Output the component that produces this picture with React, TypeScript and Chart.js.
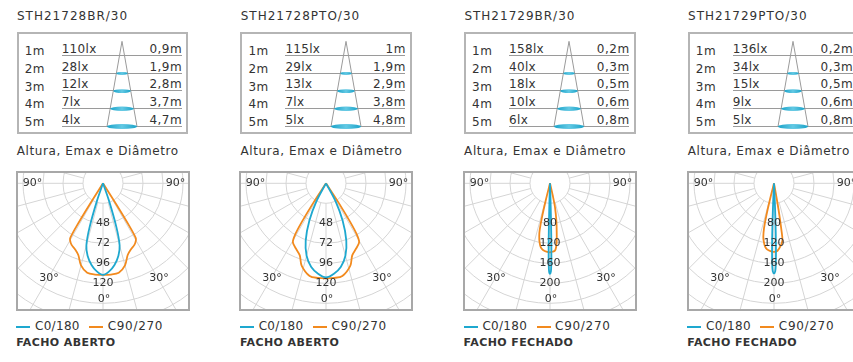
import React, { useEffect, useRef } from 'react';
import { Chart, registerables } from 'chart.js';

Chart.register(...registerables);

// ---------------- data ----------------
const TITLES = ['STH21728BR/30', 'STH21728PTO/30', 'STH21729BR/30', 'STH21729PTO/30'];
const FOOTERS = ['FACHO ABERTO', 'FACHO ABERTO', 'FACHO FECHADO', 'FACHO FECHADO'];
const SUBTITLE = 'Altura, Emax e Diâmetro';
const LEGEND_LABELS = ['C0/180', 'C90/270'];

const DISTANCES = [1, 2, 3, 4, 5];
const LUX_1 = [110, 28, 12, 7, 4];
const LUX_2 = [115, 29, 13, 7, 5];
const LUX_3 = [158, 40, 18, 10, 6];
const LUX_4 = [136, 34, 15, 9, 5];
const DIAM_1 = [0.9, 1.9, 2.8, 3.7, 4.7];
const DIAM_2 = [1, 1.9, 2.9, 3.8, 4.8];
const DIAM_3 = [0.2, 0.3, 0.5, 0.6, 0.8];
const DIAM_4 = [0.2, 0.3, 0.5, 0.6, 0.8];

// polar ring step (cd) and labelled ticks
const RING_STEPS = [24, 24, 40, 40];
const TICKS_ABERTO = [48, 72, 96, 120];
const TICKS_FECHADO = [80, 120, 160, 200];
const ANGLE_LABELS = ['90°', '90°', '30°', '30°', '0°'];
const ANGLE_LABEL_DEG = [-90, 90, -30, 30, 0];

// intensity curves (angle from nadir in degrees, intensity in cd)
const P1_C0_ANG = [0, 4, 8, 12, 15, 17, 19, 20.5];
const P1_C0_CD = [110, 106, 99, 89, 77, 55, 22, 0];
const P1_C90_ANG = [0, 5, 10, 15, 19, 23, 27, 30, 31, 31.7, 32.3, 33];
const P1_C90_CD = [110, 110, 109, 102, 91, 86, 83, 79, 76, 60, 30, 0];

const P2_C0_ANG = [0, 5, 10, 15, 19.5, 24, 28, 30.5];
const P2_C0_CD = [113, 109, 102, 90, 73, 49, 24, 0];
const P2_C90_ANG = [0, 5, 10, 16.5, 20, 25, 29.4, 31, 32, 33, 34];
const P2_C90_CD = [114, 114, 113, 103, 92, 86, 81, 72, 55, 28, 0];

const P3_C0_ANG = [0, 0.6, 0.9, 1.2, 1.5, 1.8, 2.1];
const P3_C0_CD = [181, 176, 162, 132, 85, 35, 0];
const P3_C270_ANG = [0, 3, 6, 8, 10, 11.5, 12.5, 13.3, 14, 14.5];
const P3_C270_CD = [138, 137, 134, 130, 120, 108, 95, 70, 35, 0];
const P3_C90_ANG = [0, 2, 4.2, 5.5, 6.7, 8, 9.5, 11.8, 12.8, 13.5];
const P3_C90_CD = [138, 137, 135, 128, 115, 96, 78, 49, 25, 0];

const P4_C0_ANG = [0, 0.8, 1.2, 1.6, 2, 2.4, 2.8, 3.2];
const P4_C0_CD = [180, 176, 165, 140, 100, 55, 20, 0];
const P4_C270_ANG = [0, 3, 6, 8, 10, 11.3, 12.5, 13.3, 14, 14.5];
const P4_C270_CD = [137, 136, 133, 128, 118, 109, 92, 68, 34, 0];
const P4_C90_ANG = [0, 3, 6, 8.4, 9, 9.5, 10, 10.5];
const P4_C90_CD = [137, 135, 126, 115, 95, 70, 40, 0];

// ---------------- styles ----------------
const CYAN = '#1ea8cf';
const ORANGE = '#f28a1e';
const TEXT = '#333333';
const FONT = '"DejaVu Sans", sans-serif';
const PANEL_X0 = 15.7;
const PANEL_GAP = 223.7;
const RING_PX = 20;
const ROW_Y0 = 55.3;
const ROW_STEP = 17.7;
const CONE_APEX = 0.19;
const CONE_HALF = 15;

type Curve = { leftAng: number[]; leftCd: number[]; rightAng: number[]; rightCd: number[]; color: string };

const LUX = [LUX_1, LUX_2, LUX_3, LUX_4];
const DIAM = [DIAM_1, DIAM_2, DIAM_3, DIAM_4];
const TICKS = [TICKS_ABERTO, TICKS_ABERTO, TICKS_FECHADO, TICKS_FECHADO];
const CURVES: Curve[][] = [
  [
    { leftAng: P1_C0_ANG, leftCd: P1_C0_CD, rightAng: P1_C0_ANG, rightCd: P1_C0_CD, color: CYAN },
    { leftAng: P1_C90_ANG, leftCd: P1_C90_CD, rightAng: P1_C90_ANG, rightCd: P1_C90_CD, color: ORANGE },
  ],
  [
    { leftAng: P2_C0_ANG, leftCd: P2_C0_CD, rightAng: P2_C0_ANG, rightCd: P2_C0_CD, color: CYAN },
    { leftAng: P2_C90_ANG, leftCd: P2_C90_CD, rightAng: P2_C90_ANG, rightCd: P2_C90_CD, color: ORANGE },
  ],
  [
    { leftAng: P3_C0_ANG, leftCd: P3_C0_CD, rightAng: P3_C0_ANG, rightCd: P3_C0_CD, color: CYAN },
    { leftAng: P3_C270_ANG, leftCd: P3_C270_CD, rightAng: P3_C90_ANG, rightCd: P3_C90_CD, color: ORANGE },
  ],
  [
    { leftAng: P4_C0_ANG, leftCd: P4_C0_CD, rightAng: P4_C0_ANG, rightCd: P4_C0_CD, color: CYAN },
    { leftAng: P4_C270_ANG, leftCd: P4_C270_CD, rightAng: P4_C90_ANG, rightCd: P4_C90_CD, color: ORANGE },
  ],
];

function curvePoints(c: Curve) {
  const pts: { x: number; y: number }[] = [];
  for (let i = c.leftAng.length - 1; i >= 0; i--) {
    const a = (c.leftAng[i] * Math.PI) / 180;
    pts.push({ x: -c.leftCd[i] * Math.sin(a), y: -c.leftCd[i] * Math.cos(a) });
  }
  for (let i = 0; i < c.rightAng.length; i++) {
    if (c.rightAng[i] === 0) continue;
    const a = (c.rightAng[i] * Math.PI) / 180;
    pts.push({ x: c.rightCd[i] * Math.sin(a), y: -c.rightCd[i] * Math.cos(a) });
  }
  return pts;
}

const polarGridPlugin = {
  id: 'polarGrid',
  beforeDatasetsDraw(chart: any, _a: any, opts: any) {
    const { ctx, chartArea, scales } = chart;
    const xs = scales.x, ys = scales.y;
    const cx = xs.getPixelForValue(0);
    const cy = ys.getPixelForValue(0);
    const ring = Math.abs(xs.getPixelForValue(opts.step) - cx);
    ctx.save();
    ctx.beginPath();
    ctx.rect(chartArea.left, chartArea.top, chartArea.right - chartArea.left, chartArea.bottom - chartArea.top);
    ctx.clip();
    ctx.strokeStyle = '#d5d5d5';
    ctx.lineWidth = 1;
    for (let k = 1; k <= 9; k++) {
      ctx.beginPath();
      ctx.arc(cx, cy, k * ring, 0, Math.PI * 2);
      ctx.stroke();
    }
    for (let d = 0; d < 360; d += 15) {
      const r = (d * Math.PI) / 180;
      ctx.beginPath();
      ctx.moveTo(cx + ring * Math.sin(r), cy + ring * Math.cos(r));
      ctx.lineTo(cx + 10 * ring * Math.sin(r), cy + 10 * ring * Math.cos(r));
      ctx.stroke();
    }
    ctx.restore();
  },
  afterDatasetsDraw(chart: any, _a: any, opts: any) {
    const { ctx, scales } = chart;
    const xs = scales.x, ys = scales.y;
    ctx.save();
    ctx.fillStyle = TEXT;
    ctx.font = `11px ${FONT}`;
    ctx.textAlign = 'center';
    ctx.textBaseline = 'middle';
    for (const v of opts.ticks) {
      ctx.fillText(String(v), xs.getPixelForValue(0), ys.getPixelForValue(-v));
    }
    const radii = opts.labelRings;
    ANGLE_LABELS.forEach((t: string, i: number) => {
      const a = (ANGLE_LABEL_DEG[i] * Math.PI) / 180;
      const rr = radii[i] * opts.step;
      ctx.fillText(t, xs.getPixelForValue(rr * Math.sin(a)) + 1, ys.getPixelForValue(-rr * Math.cos(a)));
    });
    ctx.restore();
  },
};

function PolarChart({ step, ticks, curves }: { step: number; ticks: number[]; curves: Curve[] }) {
  const ref = useRef<HTMLCanvasElement>(null);
  useEffect(() => {
    const W = 170, H = 136, CX = 85, CY = 10.3;
    const u = step / RING_PX;
    const chart = new Chart(ref.current as HTMLCanvasElement, {
      type: 'scatter',
      data: {
        datasets: curves.map((c, i) => ({
          data: curvePoints(c),
          showLine: true,
          borderColor: c.color,
          backgroundColor: c.color,
          borderWidth: 1.8,
          pointRadius: 0,
          tension: 0.3,
          fill: false,
          order: i,
        })),
      },
      options: {
        animation: false,
        responsive: false,
        maintainAspectRatio: false,
        events: [],
        layout: { padding: 0 },
        plugins: {
          legend: { display: false },
          tooltip: { enabled: false },
          polarGrid: { step, ticks, labelRings: [3.57, 3.57, 5.5, 5.5, 5.8] },
        } as any,
        scales: {
          x: { type: 'linear', display: false, min: -CX * u, max: (W - CX) * u },
          y: { type: 'linear', display: false, min: -(H - CY) * u, max: CY * u },
        },
      },
      plugins: [polarGridPlugin],
    });
    return () => chart.destroy();
  }, []);
  return <canvas ref={ref} width={170} height={136} style={{ display: 'block', width: 170, height: 136 }} />;
}

const coneRingsPlugin = {
  id: 'coneRings',
  afterDatasetsDraw(chart: any) {
    const { ctx, scales } = chart;
    const xs = scales.x, ys = scales.y;
    const maxD = Math.max(...DISTANCES);
    const cx = xs.getPixelForValue(0);
    ctx.save();
    DISTANCES.slice(1).forEach((d) => {
      const hw = (CONE_HALF * (d - CONE_APEX)) / (maxD - CONE_APEX);
      const rx = xs.getPixelForValue(hw) - cx;
      const ry = 0.12 * rx + 0.8;
      const y = ys.getPixelForValue(d);
      const g = ctx.createLinearGradient(cx - rx, 0, cx + rx, 0);
      g.addColorStop(0, '#1ba3c9');
      g.addColorStop(0.5, '#63c9e4');
      g.addColorStop(1, '#1ba3c9');
      ctx.fillStyle = g;
      ctx.beginPath();
      ctx.ellipse(cx, y, rx, ry, 0, 0, Math.PI * 2);
      ctx.fill();
    });
    ctx.restore();
  },
};

function ConeChart() {
  const ref = useRef<HTMLCanvasElement>(null);
  useEffect(() => {
    const maxD = Math.max(...DISTANCES);
    const chart = new Chart(ref.current as HTMLCanvasElement, {
      type: 'scatter',
      data: {
        datasets: [
          {
            data: [
              { x: -CONE_HALF, y: maxD },
              { x: 0, y: CONE_APEX },
              { x: CONE_HALF, y: maxD },
            ],
            showLine: true,
            borderColor: '#9a9a9a',
            borderWidth: 1,
            pointRadius: 0,
            tension: 0,
          },
        ],
      },
      options: {
        animation: false,
        responsive: false,
        maintainAspectRatio: false,
        events: [],
        layout: { padding: 0 },
        plugins: { legend: { display: false }, tooltip: { enabled: false } },
        scales: {
          x: { type: 'linear', display: false, min: -20, max: 20 },
          y: { type: 'linear', display: false, min: 0, max: 96 / ROW_STEP, reverse: true },
        },
      },
      plugins: [coneRingsPlugin],
    });
    return () => chart.destroy();
  }, []);
  return <canvas ref={ref} width={40} height={96} style={{ display: 'block', width: 40, height: 96 }} />;
}

function T({ x, base, size = 12, weight = 400, ls = 0, width, align, children }: any) {
  const lh = Math.ceil(size * 1.2);
  const top = base - 0.928 * size - (lh - 1.164 * size) / 2;
  return (
    <div
      style={{
        position: 'absolute',
        left: x,
        top,
        width,
        textAlign: align,
        fontSize: size,
        lineHeight: lh + 'px',
        fontWeight: weight,
        letterSpacing: ls,
        whiteSpace: 'nowrap',
        color: TEXT,
        fontFamily: FONT,
      }}
    >
      {children}
    </div>
  );
}

const fmtM = (v: number) => String(v).replace('.', ',') + 'm';

function Panel({ i }: { i: number }) {
  const x0 = PANEL_X0 + PANEL_GAP * i;
  return (
    <>
      <T x={x0 + 1.3} base={20.7} size={12} ls={1}>{TITLES[i]}</T>
      <div
        style={{
          position: 'absolute', left: x0 + 1, top: 31.5, width: 171.6, height: 102.5,
          border: '2px solid #b5b5b5', boxSizing: 'border-box',
        }}
      />
      {DISTANCES.map((d, r) => {
        const ly = ROW_Y0 + ROW_STEP * r;
        return (
          <React.Fragment key={r}>
            <div style={{ position: 'absolute', left: x0 + 46, top: ly - 0.5, width: 120, height: 0, borderTop: '1px solid #9a9a9a' }} />
            <T x={x0 + 9} base={ly + 0.5} ls={0.5}>{d}m</T>
            <T x={x0 + 46} base={ly - 1.7} ls={0.3}>{LUX[i][r]}lx</T>
            <T x={x0 + 46} base={ly - 1.7} ls={0.5} width={120.5} align="right">{fmtM(DIAM[i][r])}</T>
          </React.Fragment>
        );
      })}
      <div style={{ position: 'absolute', left: x0 + 106.3 - 20, top: ROW_Y0 - ROW_STEP }}>
        <ConeChart />
      </div>
      <T x={x0 + 1} base={156} size={12} ls={0.6}>{SUBTITLE}</T>
      <div
        style={{
          position: 'absolute', left: x0, top: 171, width: 174, height: 140,
          border: '2px solid #a8a8a8', boxSizing: 'border-box',
        }}
      >
        <PolarChart step={RING_STEPS[i]} ticks={TICKS[i]} curves={CURVES[i]} />
      </div>
      <div style={{ position: 'absolute', left: x0 + 0.5, top: 325.5, width: 14, height: 2, background: CYAN }} />
      <T x={x0 + 19.3} base={330.7} size={12} ls={0.3}>{LEGEND_LABELS[0]}</T>
      <div style={{ position: 'absolute', left: x0 + 73.5, top: 325.5, width: 14, height: 2, background: ORANGE }} />
      <T x={x0 + 92} base={330.7} size={12} ls={0.7}>{LEGEND_LABELS[1]}</T>
      <T x={x0 + 0.5} base={346.7} size={11} weight={700} ls={0.4}>{FOOTERS[i]}</T>
    </>
  );
}

export default function App() {
  return (
    <div
      style={{
        position: 'fixed', left: 0, top: 0, width: 853, height: 362, overflow: 'hidden',
        background: '#ffffff', fontFamily: FONT,
      }}
    >
      {[0, 1, 2, 3].map((i) => (
        <Panel key={i} i={i} />
      ))}
    </div>
  );
}
